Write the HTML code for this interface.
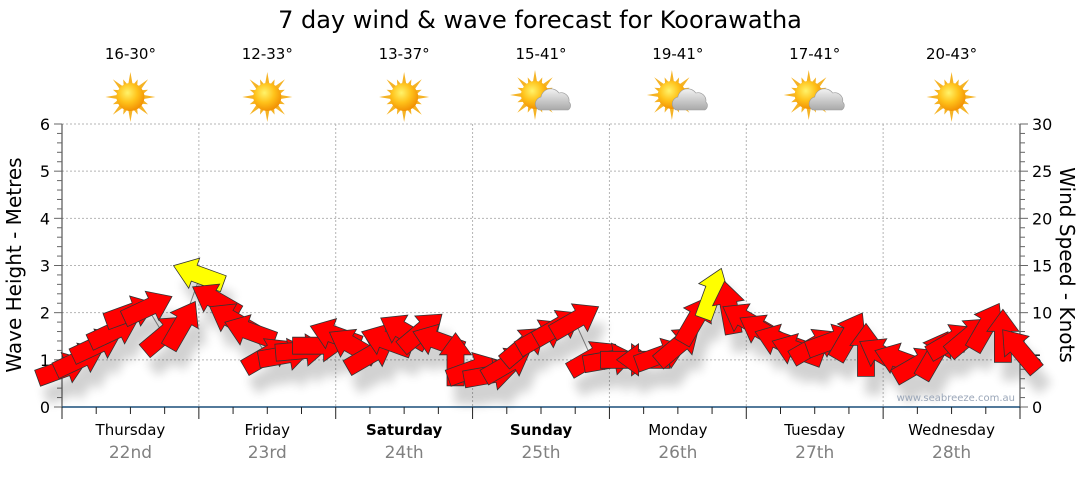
<!DOCTYPE html>
<html><head><meta charset="utf-8">
<style>
html,body{margin:0;padding:0;background:#fff;}
body{width:1080px;height:475px;overflow:hidden;font-family:"Liberation Sans","DejaVu Sans",sans-serif;}
svg text{font-family:"DejaVu Sans","Liberation Sans",sans-serif;}
</style></head>
<body>
<svg id="chart" width="1080" height="475" viewBox="0 0 1080 475" xmlns="http://www.w3.org/2000/svg">
<defs>
<filter id="shadow" x="-50%" y="-50%" width="250%" height="250%">
<feGaussianBlur in="SourceAlpha" stdDeviation="5"/>
<feOffset dx="8" dy="18" result="ob"/>
<feComponentTransfer><feFuncA type="linear" slope="0.18"/></feComponentTransfer>
<feMerge><feMergeNode/><feMergeNode in="SourceGraphic"/></feMerge>
</filter>
<radialGradient id="sunG" cx="0.4" cy="0.35" r="0.7">
<stop offset="0" stop-color="#fff36a"/><stop offset="0.5" stop-color="#ffc21a"/><stop offset="1" stop-color="#f08a00"/>
</radialGradient>
<linearGradient id="cloudG" x1="0" y1="0" x2="0" y2="1">
<stop offset="0" stop-color="#f2f2f2"/><stop offset="1" stop-color="#a9a9a9"/>
</linearGradient>
</defs>
<text x="540" y="28" text-anchor="middle" font-size="24" fill="#000">7 day wind &amp; wave forecast for Koorawatha</text>
<g id="topg"></g>
<g id="grid"></g>
<g id="axes"></g>
<g id="wave"></g>
<g id="arrows" filter="url(#shadow)"></g>
<text x="1015" y="401" text-anchor="end" font-size="10" fill="#9aa6b8">www.seabreeze.com.au</text>
<text transform="translate(21,265) rotate(-90)" text-anchor="middle" font-size="20" fill="#000">Wave Height - Metres</text>
<text transform="translate(1060,265) rotate(90)" text-anchor="middle" font-size="20" fill="#000">Wind Speed - Knots</text>
</svg>
<script>
const days = ["Thursday","Friday","Saturday","Sunday","Monday","Tuesday","Wednesday"];
const dates = ["22nd","23rd","24th","25th","26th","27th","28th"];
const temps = ["16-30°","12-33°","13-37°","15-41°","19-41°","17-41°","20-43°"];
const icons = ["sun","sun","sun","cloud","cloud","cloud","sun"];
const waveTicks = [0,1,2,3,4,5,6];
const windTicks = [0,5,10,15,20,25,30];
// wind speed (knots) every 3 hours
const windSpeed = [4,5,6.5,8,10,10.5,7.7,8.7,
 14,11.3,9.2,8,5.5,5.5,6,6.5,
 7.6,6.5,5.5,7,8,8,7,5,
 4,3.4,4.5,6.5,7.5,8.5,9.2,5.2,
 5,5,5,5.5,6.5,9.2,12,10.5,
 9.2,8,7,6,6.5,7,7.5,6,
 5.5,5,4.5,5.5,7,7.5,8.5,7.5,6];
// arrow pointing angle in degrees (0 = right, positive = up)
const windDir = [20,25,25,25,20,25,40,60,
 160,150,150,160,30,10,5,0,
 160,150,30,160,150,40,160,90,
 20,10,30,40,30,30,30,30,
 10,0,180,20,40,60,70,100,
 150,150,160,160,30,20,60,90,
 150,160,30,60,30,40,60,90,130];
// wave height (metres)
const waveHeight = [0.8,1.0,1.3,1.6,2.0,2.1,1.5,1.7,
 2.7,2.2,1.8,1.6,1.1,1.1,1.2,1.3,
 1.5,1.3,1.1,1.4,1.6,1.6,1.4,1.0,
 0.8,0.7,0.9,1.3,1.5,1.7,1.8,1.0,
 1.0,1.0,1.0,1.1,1.3,1.8,2.3,2.1,
 1.8,1.6,1.4,1.2,1.3,1.4,1.5,1.2,
 1.1,1.0,0.9,1.1,1.4,1.5,1.7,1.5,1.2];

const NS="http://www.w3.org/2000/svg";
const X0=62, X1=1020, Y0=407, Y6=124;
const dayW=(X1-X0)/7;
const yWave=m=>Y0-(m/6)*(Y0-Y6);
const yWind=k=>yWave(k/5);
const xHour=h=>X0+h/24*dayW;
function mk(tag,attrs,parent){const e=document.createElementNS(NS,tag);for(const k in attrs)e.setAttribute(k,attrs[k]);parent.appendChild(e);return e;}
const topG=document.getElementById('topg'),grid=document.getElementById('grid'),axes=document.getElementById('axes'),wave=document.getElementById('wave'),arrows=document.getElementById('arrows');

function sun(g,cx,cy){
  let pts=[];
  for(let i=0;i<32;i++){const a=i*Math.PI/16;const r=i%2===0?(i%4===0?25:19):12;pts.push((cx+r*Math.cos(a)).toFixed(1)+","+(cy+r*Math.sin(a)).toFixed(1));}
  mk('polygon',{points:pts.join(' '),fill:'#f5b325'},g);
  mk('circle',{cx:cx,cy:cy,r:14,fill:'url(#sunG)'},g);
}
function cloud(g,cx,cy){
  mk('path',{d:`M${cx-6},${cy+14} a7,7 0 0 1 2,-13 a10,10 0 0 1 18,-4 a8,8 0 0 1 10,9 a5,5 0 0 1 -1,8 z`,fill:'url(#cloudG)',stroke:'#999','stroke-width':0.6},g);
}
for(let i=0;i<7;i++){
  const cx=X0+dayW*(i+0.5);
  const t=mk('text',{x:cx,y:59,'text-anchor':'middle','font-size':15,fill:'#000'},topG);t.textContent=temps[i];
  
  
  const g=mk('g',{},topG);
  
  
  if(icons[i]==='sun')sun(g,cx,97);else{sun(g,cx-6,95);cloud(g,cx+4,96);}
  const d=mk('text',{x:cx,y:435,'text-anchor':'middle','font-size':15,fill:'#000','font-weight':(i==2||i==3)?'bold':'normal'},axes);d.textContent=days[i];
  
  
  const dt=mk('text',{x:cx,y:458,'text-anchor':'middle','font-size':17,fill:'#808080'},axes);dt.textContent=dates[i];
  
  
}
for(const m of waveTicks){ if(m>0) mk('line',{x1:X0,x2:X1,y1:yWave(m),y2:yWave(m),stroke:'#b5b5b5','stroke-dasharray':'2,2'},grid);}
for(let i=1;i<7;i++){const x=X0+dayW*i;mk('line',{x1:x,x2:x,y1:Y6,y2:Y0,stroke:'#b5b5b5','stroke-dasharray':'2,2'},grid);}
mk('line',{x1:X0,x2:X0,y1:Y6,y2:Y0,stroke:'#333'},axes);
mk('line',{x1:X1,x2:X1,y1:Y6,y2:Y0,stroke:'#333'},axes);
mk('line',{x1:X0,x2:X1,y1:Y0,y2:Y0,stroke:'#1a4f7a','stroke-width':1.5},axes);
for(let i=0;i<=30;i++){const y=yWave(i*0.2);const big=i%5===0;
  mk('line',{x1:X0-(big?8:5),x2:X0,y1:y,y2:y,stroke:'#666'},axes);
  mk('line',{x1:X1,x2:X1+(big?8:5),y1:y,y2:y,stroke:'#666'},axes);}
for(const m of waveTicks){const t=mk('text',{x:X0-12,y:yWave(m)+6,'text-anchor':'end','font-size':16,fill:'#000'},axes);t.textContent=m;
  
  }
for(const k of windTicks){const t=mk('text',{x:X1+12,y:yWind(k)+6,'text-anchor':'start','font-size':16,fill:'#000'},axes);t.textContent=k;
  
  }
for(let h=0;h<=168;h+=6){const x=xHour(h);const big=h%24===0;mk('line',{x1:x,x2:x,y1:Y0,y2:Y0+(big?12:7),stroke:'#222'},axes);}
const wp=waveHeight.map((m,i)=>xHour(i*3).toFixed(1)+","+yWave(m).toFixed(1)).join(' ');
const wl=mk('polyline',{points:wp,fill:'none',stroke:'#888','stroke-width':1},wave);


const shape="M-26,-8.5 L5,-8.5 L5,-16 L27,0 L5,16 L5,8.5 L-26,8.5 Z";
windSpeed.forEach((k,i)=>{
  const x=xHour(i*3), y=yWind(k);
  const a=mk('path',{d:shape,fill:k>=12?'#ffff00':'#ff0000',stroke:'#333','stroke-width':0.8,
    transform:`translate(${x.toFixed(1)},${y.toFixed(1)}) rotate(${-windDir[i]})`},arrows);
  
  
});
</script>
</body></html>
